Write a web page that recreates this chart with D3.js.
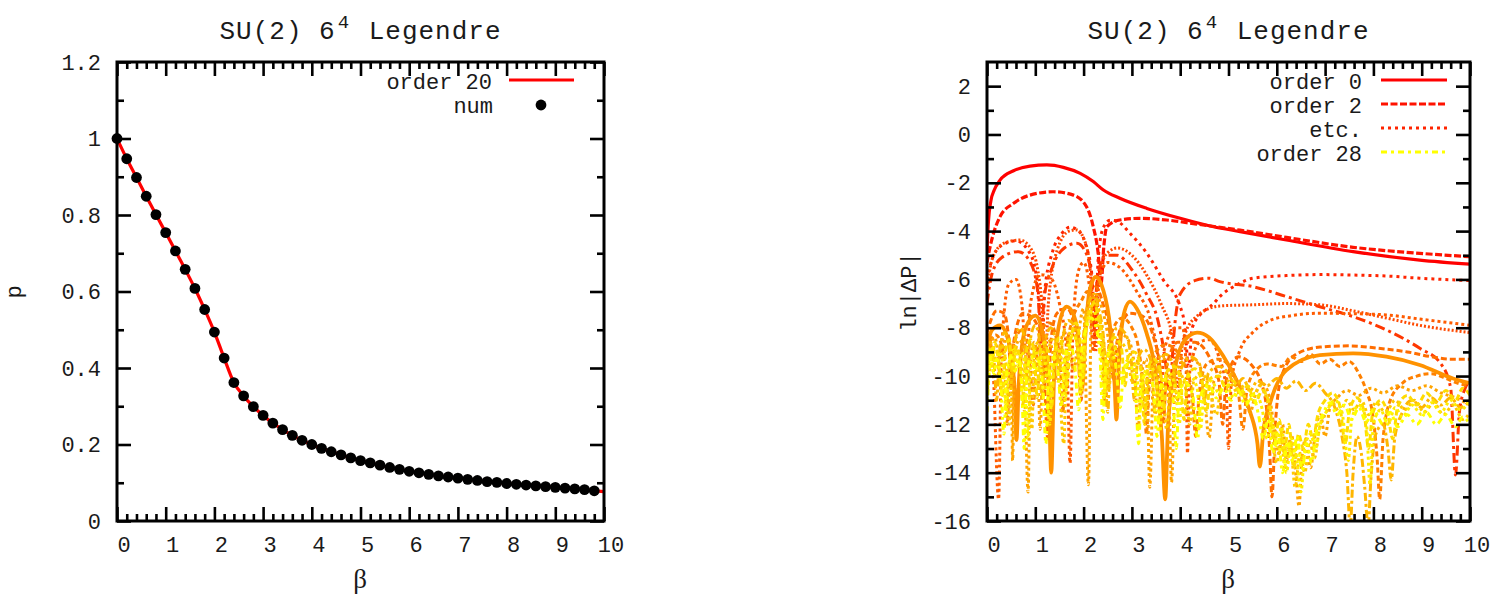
<!DOCTYPE html>
<html><head><meta charset="utf-8">
<script src="https://cdn.jsdelivr.net/npm/d3@7"></script>
<style>
html,body{margin:0;padding:0;background:#fff;}
svg{display:block;}
text{font-family:"Liberation Mono","DejaVu Sans Mono",monospace;fill:#1a1a1a;}
</style></head><body>
<svg id="chart" width="1497" height="598"></svg>
<script>
// ---- Left panel: plaquette p(beta), numerical points and order-20 expansion ----
const betaNum = [0,0.2,0.4,0.6,0.8,1.0,1.2,1.4,1.6,1.8,2.0,2.2,2.4,2.6,2.8,3.0,3.2,3.4,3.6,3.8,4.0,4.2,4.4,4.6,4.8,5.0,5.2,5.4,5.6,5.8,6.0,6.2,6.4,6.6,6.8,7.0,7.2,7.4,7.6,7.8,8.0,8.2,8.4,8.6,8.8,9.0,9.2,9.4,9.6,9.8];
const pNum = [1.000,0.947,0.898,0.849,0.801,0.754,0.706,0.658,0.608,0.553,0.494,0.426,0.362,0.327,0.299,0.276,0.256,0.239,0.224,0.211,0.200,0.190,0.181,0.173,0.165,0.158,0.152,0.146,0.140,0.135,0.130,0.126,0.122,0.118,0.115,0.112,0.109,0.106,0.103,0.101,0.098,0.096,0.094,0.092,0.090,0.088,0.086,0.084,0.082,0.079];
const betaOrder20 = [0,0.2,0.4,0.6,0.8,1.0,1.2,1.4,1.6,1.8,2.0,2.2,2.4,2.6,2.8,3.0,3.2,3.4,3.6,3.8,4.0,4.2,4.4,4.6,4.8,5.0,5.2,5.4,5.6,5.8,6.0,6.2,6.4,6.6,6.8,7.0,7.2,7.4,7.6,7.8,8.0,8.2,8.4,8.6,8.8,9.0,9.2,9.4,9.6,9.8,10.0];
const pOrder20 = [1.000,0.947,0.898,0.849,0.801,0.754,0.706,0.658,0.608,0.553,0.494,0.426,0.362,0.327,0.299,0.276,0.256,0.239,0.224,0.211,0.200,0.190,0.181,0.173,0.165,0.158,0.152,0.146,0.140,0.135,0.130,0.126,0.122,0.118,0.115,0.112,0.109,0.106,0.103,0.101,0.098,0.096,0.094,0.092,0.090,0.088,0.086,0.084,0.082,0.079,0.077];

const leftXTicks = [0,1,2,3,4,5,6,7,8,9,10];
const leftYTicks = [0,0.2,0.4,0.6,0.8,1,1.2];
const rightXTicks = [0,1,2,3,4,5,6,7,8,9,10];
const rightYTicks = [-16,-14,-12,-10,-8,-6,-4,-2,0,2];

// ---- Right panel: ln|ΔP| of the truncated expansions, [beta, ln|ΔP|] ----
const err0 = [[0,-4.8],[0.03,-3.6],[0.08,-2.75],[0.15,-2.3],[0.27,-1.89],[0.55,-1.5],[0.89,-1.31],[1.24,-1.26],[1.58,-1.36],[1.93,-1.61],[2.2,-1.95],[2.41,-2.3],[2.75,-2.64],[3.31,-3.06],[4.0,-3.47],[4.69,-3.82],[5.24,-4.02],[6.2,-4.37],[7.58,-4.85],[8.96,-5.2],[10,-5.37]];
const err2 = [[0,-5.3],[0.05,-4.78],[0.27,-3.4],[0.55,-2.85],[0.89,-2.51],[1.37,-2.37],[1.79,-2.51],[2.06,-2.99],[2.2,-3.82],[2.3,-4.9],[2.36,-6.2],[2.42,-4.6],[2.48,-3.82],[2.75,-3.54],[3.17,-3.47],[3.72,-3.54],[4.34,-3.71],[5.24,-3.96],[6.2,-4.26],[7.58,-4.67],[8.96,-4.92],[10,-5.06]];
const err4 = [[0,-6.0],[0.1,-5.2],[0.3,-4.6],[0.6,-4.4],[0.85,-4.8],[1.0,-5.6],[1.08,-7.0],[1.13,-9.0],[1.2,-6.4],[1.35,-4.9],[1.55,-4.1],[1.72,-3.84],[1.9,-4.0],[2.05,-4.6],[2.17,-5.8],[2.24,-8.5],[2.3,-5.2],[2.4,-3.9],[2.55,-3.55],[2.7,-3.6],[2.96,-4.09],[3.31,-4.92],[3.65,-6.02],[4.0,-7.13],[4.1,-8.0],[4.17,-9.6],[4.25,-8.0],[4.4,-7.5],[4.69,-7.0],[4.82,-6.71],[5.17,-6.23],[5.51,-5.95],[6.2,-5.84],[6.89,-5.8],[7.58,-5.82],[8.27,-5.86],[8.96,-5.95],[10,-6.05]];
const err6 = [[0,-7.0],[0.1,-5.8],[0.3,-5.1],[0.65,-4.85],[0.9,-5.3],[1.05,-6.5],[1.12,-8.5],[1.18,-6.8],[1.35,-5.5],[1.6,-4.7],[1.86,-4.5],[2.05,-4.9],[2.17,-6.0],[2.22,-8.0],[2.28,-6.0],[2.45,-5.0],[2.7,-5.0],[3.0,-5.6],[3.3,-6.6],[3.55,-7.8],[3.7,-9.5],[3.78,-11],[3.86,-8.5],[4.0,-6.6],[4.3,-6.05],[4.6,-5.95],[4.82,-6.09],[5.51,-6.3],[6.2,-6.71],[6.89,-7.13],[7.58,-7.54],[8.27,-8.09],[8.96,-8.85],[9.4,-9.5],[9.6,-10.5],[9.7,-14.1],[9.78,-11.5],[9.9,-10.5],[10,-10.2]];
const err8 = [[0,-6.5],[0.1,-5.2],[0.35,-4.5],[0.68,-4.37],[0.9,-4.7],[1.05,-5.6],[1.15,-7.5],[1.2,-9.8],[1.27,-7.0],[1.45,-4.8],[1.7,-4.0],[1.86,-3.95],[2.0,-4.3],[2.12,-5.3],[2.2,-7.5],[2.25,-9],[2.3,-6.5],[2.45,-5.0],[2.7,-4.7],[3.0,-5.0],[3.3,-5.8],[3.6,-7.0],[3.85,-8.5],[3.95,-10.5],[4.05,-8.6],[4.3,-7.6],[4.82,-7.1],[5.51,-7.05],[6.2,-7.0],[6.89,-7.05],[7.58,-7.3],[8.27,-7.6],[8.96,-7.9],[10,-8.2]];
const err10 = [[0,-8.0],[0.12,-9.5],[0.24,-15.1],[0.3,-9.0],[0.45,-6.2],[0.6,-6.0],[0.72,-7.0],[0.82,-9.5],[0.9,-7.0],[1.1,-5.8],[1.3,-5.9],[1.5,-7.0],[1.65,-9.0],[1.72,-13.6],[1.78,-8.0],[1.9,-5.6],[2.0,-5.3],[2.12,-6.3],[2.2,-9],[2.3,-6.2],[2.5,-5.3],[2.8,-5.6],[3.1,-6.5],[3.4,-7.8],[3.55,-9.5],[3.6,-11.2],[3.66,-9.0],[3.9,-8.0],[4.05,-8.0],[4.12,-9.5],[4.15,-13.2],[4.2,-9.8],[4.4,-8.6],[4.6,-8.5],[4.8,-9.2],[4.95,-10.5],[5.0,-13.0],[5.06,-10.2],[5.24,-8.92],[5.5,-8.2],[5.86,-7.7],[6.3,-7.5],[6.89,-7.4],[7.6,-7.42],[8.27,-7.47],[9.0,-7.65],[10,-7.9]];
const err12 = [[0,-8.2],[0.2,-7.3],[0.35,-7.4],[0.45,-8.5],[0.5,-10.5],[0.56,-8.5],[0.75,-7.4],[0.95,-7.6],[1.15,-8.8],[1.26,-12.6],[1.32,-8.6],[1.45,-7.4],[1.65,-7.2],[1.8,-7.8],[1.9,-9.4],[1.95,-11],[2.0,-9],[2.15,-6.5],[2.25,-6.3],[2.4,-7.0],[2.55,-8.3],[2.62,-10.2],[2.7,-8.5],[2.95,-7.4],[3.2,-7.5],[3.45,-8.4],[3.6,-10],[3.65,-12],[3.72,-9.6],[3.95,-8.6],[4.3,-8.6],[4.6,-9.2],[4.8,-10.2],[4.88,-12.0],[4.95,-10.2],[5.2,-9.2],[5.5,-9.6],[5.75,-10.8],[5.85,-13],[5.9,-15.0],[5.97,-12],[6.1,-10],[6.4,-9.1],[6.9,-8.8],[7.5,-8.75],[8.1,-8.85],[8.7,-9.0],[9.2,-9.2],[9.6,-9.3],[10,-9.3]];
const err14 = [[0,-9.2],[0.08,-8.5],[0.18,-8.3],[0.3,-8.7],[0.38,-10.2],[0.42,-12.0],[0.47,-9.8],[0.6,-8.4],[0.72,-8.1],[0.82,-8.5],[0.9,-9.8],[0.96,-11.2],[1.02,-9.3],[1.15,-8.0],[1.3,-7.8],[1.42,-8.3],[1.52,-9.6],[1.57,-11.5],[1.63,-9.2],[1.78,-7.6],[1.95,-6.9],[2.08,-6.5],[2.18,-6.7],[2.3,-7.6],[2.4,-9.5],[2.45,-11.2],[2.5,-9.2],[2.62,-8.0],[2.8,-7.6],[3.0,-8.0],[3.15,-9.0],[3.25,-10.8],[3.3,-12.4],[3.36,-10.4],[3.5,-9.0],[3.7,-8.7],[3.9,-8.9],[4.1,-9.6],[4.25,-10.8],[4.32,-12.5],[4.4,-10.6],[4.55,-9.5],[4.8,-9.3],[5.05,-9.7],[5.2,-10.6],[5.3,-12.2],[5.38,-10.6],[5.55,-9.8],[5.8,-9.5],[6.1,-9.6],[6.3,-9.2],[6.5,-9.4],[6.7,-9.1],[6.9,-9.5],[7.1,-9.3],[7.3,-9.6],[7.5,-9.4],[7.7,-9.9],[7.85,-10.6],[8.0,-11.8],[8.08,-13.5],[8.13,-15.1],[8.2,-12.6],[8.35,-11.0],[8.6,-10.3],[8.9,-10.0],[9.2,-9.9],[9.5,-10.1],[9.75,-10.3],[10,-10.4]];
const err16 = [[0,-8.8],[0.1,-8.1],[0.27,-7.9],[0.45,-8.6],[0.57,-10.5],[0.61,-12.65],[0.66,-10.2],[0.8,-8.0],[1.0,-7.5],[1.15,-8.2],[1.27,-10.2],[1.33,-14.0],[1.39,-10.0],[1.5,-7.8],[1.65,-7.13],[1.8,-7.5],[1.9,-8.6],[1.97,-10.5],[2.03,-8.5],[2.12,-6.5],[2.25,-5.9],[2.4,-6.4],[2.55,-8.0],[2.64,-10.3],[2.68,-11.8],[2.73,-9.5],[2.85,-7.3],[2.96,-6.92],[3.1,-7.2],[3.3,-8.2],[3.5,-10.0],[3.62,-12.5],[3.69,-15.1],[3.75,-12.0],[3.9,-9.6],[4.1,-8.5],[4.35,-8.2],[4.6,-8.4],[4.9,-9.2],[5.2,-10.3],[5.45,-11.5],[5.6,-12.8],[5.65,-13.75],[5.72,-12.3],[5.86,-11.13],[6.2,-9.75],[6.89,-9.13],[7.58,-9.06],[8.27,-9.2],[8.96,-9.54],[9.65,-10.1],[10,-10.3]];
const err18 = [[0,-10.5],[0.05,-9.0],[0.15,-8.4],[0.22,-8.9],[0.28,-10.4],[0.33,-9.0],[0.42,-8.3],[0.5,-9.0],[0.53,-13.5],[0.57,-9.3],[0.66,-8.5],[0.76,-8.9],[0.85,-14.8],[0.9,-9.4],[0.98,-8.6],[1.05,-9.5],[1.1,-12.2],[1.16,-9.2],[1.25,-8.4],[1.35,-8.9],[1.45,-10.2],[1.5,-9.0],[1.6,-8.2],[1.7,-8.7],[1.8,-9.8],[1.88,-8.5],[2.0,-7.2],[2.1,-14.5],[2.16,-7.4],[2.25,-6.6],[2.35,-7.0],[2.5,-8.3],[2.6,-9.8],[2.65,-8.9],[2.8,-8.3],[2.95,-8.6],[3.05,-9.6],[3.13,-12.2],[3.2,-9.9],[3.3,-9.3],[3.37,-14.6],[3.45,-9.8],[3.6,-9.2],[3.75,-9.6],[3.82,-14.4],[3.9,-10.0],[4.05,-9.4],[4.25,-9.3],[4.45,-9.8],[4.6,-12.55],[4.7,-10.2],[4.9,-9.8],[5.1,-10.0],[5.3,-10.6],[5.45,-11.5],[5.55,-10.8],[5.7,-10.3],[5.85,-10.9],[5.95,-12.2],[6.05,-13.2],[6.12,-12.0],[6.2,-13.5],[6.3,-12.4],[6.4,-14.2],[6.46,-15.4],[6.52,-13.4],[6.6,-12.6],[6.7,-13.8],[6.8,-12.3],[6.9,-11.6],[7.0,-12.5],[7.1,-11.3],[7.25,-10.9],[7.45,-10.6],[7.7,-10.8],[7.95,-10.5],[8.2,-10.7],[8.5,-10.4],[8.8,-10.6],[9.1,-10.4],[9.4,-10.7],[9.7,-10.9],[10,-11.2]];
const err20 = [[0,-9.8],[0.07,-8.6],[0.14,-9.2],[0.2,-11.0],[0.26,-9.0],[0.36,-8.2],[0.45,-8.6],[0.5,-10.4],[0.56,-8.8],[0.68,-8.0],[0.78,-8.4],[0.83,-10.2],[0.88,-8.7],[1.0,-7.9],[1.08,-8.4],[1.14,-11.0],[1.2,-8.6],[1.32,-8.0],[1.42,-8.5],[1.5,-9.8],[1.56,-8.6],[1.68,-7.7],[1.8,-7.9],[1.88,-8.9],[1.94,-10.8],[2.0,-8.3],[2.12,-6.9],[2.22,-6.6],[2.32,-7.3],[2.42,-8.6],[2.5,-11.5],[2.56,-8.8],[2.7,-8.0],[2.85,-8.2],[2.98,-9.2],[3.05,-11.0],[3.12,-9.3],[3.25,-8.9],[3.4,-9.4],[3.48,-11.6],[3.55,-9.6],[3.7,-9.1],[3.85,-9.5],[3.95,-11.0],[4.02,-9.7],[4.2,-9.2],[4.4,-9.5],[4.5,-11.0],[4.58,-9.9],[4.8,-9.6],[5.0,-9.9],[5.15,-10.4],[5.3,-10.1],[5.45,-10.6],[5.6,-10.2],[5.8,-10.4],[6.0,-10.1],[6.2,-10.5],[6.4,-10.2],[6.6,-10.6],[6.8,-10.3],[7.0,-10.7],[7.2,-11.3],[7.35,-12.5],[7.45,-14.0],[7.52,-16.2],[7.58,-14.0],[7.66,-12.5],[7.75,-13.2],[7.82,-14.6],[7.89,-16.2],[7.95,-14.2],[8.05,-12.4],[8.2,-12.0],[8.3,-13.0],[8.37,-14.3],[8.44,-12.6],[8.6,-11.5],[8.8,-11.0],[9.0,-11.3],[9.2,-10.9],[9.4,-11.2],[9.6,-10.9],[9.8,-11.3],[10,-11.0]];
const err22 = [[0,-10.8],[0.06,-9.6],[0.12,-8.9],[0.2,-9.4],[0.3,-8.7],[0.4,-9.6],[0.46,-12.0],[0.52,-9.4],[0.6,-8.8],[0.7,-9.3],[0.78,-11.5],[0.84,-9.2],[0.93,-12.2],[0.98,-9.0],[1.06,-8.6],[1.13,-9.4],[1.2,-10.6],[1.26,-9.1],[1.36,-8.5],[1.46,-9.1],[1.59,-12.8],[1.65,-9.0],[1.75,-8.1],[1.86,-8.6],[1.95,-10.2],[2.03,-8.0],[2.14,-7.1],[2.24,-6.9],[2.33,-7.6],[2.44,-9.0],[2.52,-10.5],[2.6,-9.1],[2.75,-8.6],[2.9,-9.0],[3.0,-10.2],[3.08,-9.4],[3.2,-9.8],[3.3,-11.3],[3.37,-9.8],[3.5,-9.5],[3.62,-10.2],[3.72,-12.2],[3.8,-10.0],[3.95,-9.8],[4.1,-10.4],[4.2,-12.0],[4.28,-10.2],[4.45,-9.9],[4.6,-10.5],[4.75,-11.6],[4.85,-10.4],[5.0,-10.2],[5.2,-10.7],[5.35,-10.3],[5.5,-10.9],[5.65,-10.4],[5.8,-11.0],[5.9,-12.4],[6.0,-13.6],[6.08,-12.5],[6.18,-13.9],[6.28,-12.8],[6.38,-14.6],[6.48,-13.2],[6.58,-14.0],[6.68,-12.7],[6.78,-13.4],[6.88,-12.2],[7.0,-11.6],[7.15,-11.1],[7.3,-11.5],[7.45,-11.0],[7.6,-11.4],[7.75,-11.0],[7.9,-11.6],[8.05,-11.1],[8.25,-11.5],[8.45,-11.0],[8.65,-11.4],[8.85,-11.0],[9.05,-11.5],[9.25,-11.1],[9.45,-11.6],[9.65,-11.2],[9.85,-11.8],[10,-11.5]];
const err24 = [[0,-10.2],[0.05,-8.9],[0.1,-9.6],[0.16,-8.6],[0.24,-9.4],[0.32,-10.8],[0.38,-9.0],[0.46,-8.5],[0.53,-9.8],[0.6,-8.8],[0.68,-9.4],[0.74,-11.2],[0.8,-9.2],[0.9,-8.5],[0.98,-9.2],[1.04,-10.9],[1.1,-9.0],[1.2,-8.6],[1.28,-9.5],[1.34,-11.3],[1.4,-9.1],[1.5,-8.4],[1.58,-9.0],[1.66,-10.4],[1.72,-8.7],[1.84,-7.8],[1.92,-8.4],[2.0,-10.0],[2.05,-8.0],[2.15,-7.2],[2.22,-7.0],[2.3,-7.5],[2.38,-8.5],[2.46,-10.6],[2.52,-9.0],[2.64,-8.4],[2.78,-8.8],[2.86,-10.4],[2.92,-9.2],[3.05,-9.0],[3.18,-9.6],[3.26,-12.0],[3.32,-9.8],[3.45,-9.3],[3.58,-9.7],[3.66,-11.4],[3.73,-9.8],[3.88,-9.6],[4.0,-10.1],[4.08,-11.8],[4.15,-10.0],[4.3,-9.7],[4.45,-10.2],[4.55,-11.5],[4.62,-10.1],[4.8,-10.0],[4.95,-10.5],[5.1,-10.2],[5.25,-10.8],[5.4,-10.4],[5.55,-11.1],[5.7,-10.6],[5.85,-11.2],[5.95,-12.8],[6.05,-11.8],[6.15,-13.2],[6.25,-12.0],[6.35,-13.8],[6.45,-12.4],[6.55,-13.0],[6.65,-12.0],[6.75,-12.6],[6.85,-11.6],[7.0,-11.0],[7.15,-10.7],[7.3,-11.2],[7.42,-12.8],[7.5,-11.5],[7.65,-10.9],[7.8,-11.4],[7.9,-13.0],[7.98,-11.6],[8.15,-11.0],[8.3,-11.6],[8.4,-12.6],[8.5,-11.3],[8.7,-10.8],[8.9,-11.2],[9.1,-10.7],[9.3,-11.1],[9.5,-10.6],[9.7,-11.0],[9.85,-10.5],[10,-10.8]];
const err26 = [[0,-11.0],[0.04,-9.4],[0.1,-8.8],[0.18,-9.6],[0.26,-9.0],[0.34,-9.8],[0.4,-11.6],[0.46,-9.4],[0.56,-8.9],[0.64,-9.6],[0.72,-9.0],[0.8,-10.0],[0.85,-12.6],[0.9,-9.6],[1.0,-8.9],[1.08,-9.5],[1.16,-9.0],[1.24,-10.2],[1.3,-12.0],[1.36,-9.6],[1.46,-8.8],[1.54,-9.4],[1.62,-11.0],[1.68,-9.2],[1.78,-8.3],[1.88,-8.8],[1.96,-10.6],[2.02,-8.6],[2.1,-7.6],[2.2,-7.3],[2.28,-7.8],[2.36,-9.0],[2.42,-11.0],[2.48,-9.3],[2.58,-8.7],[2.7,-9.1],[2.8,-10.2],[2.88,-9.4],[3.0,-9.3],[3.1,-9.9],[3.18,-11.4],[3.25,-9.9],[3.38,-9.6],[3.5,-10.1],[3.58,-12.3],[3.65,-10.1],[3.78,-9.9],[3.9,-10.5],[3.98,-12.0],[4.05,-10.3],[4.2,-10.0],[4.35,-10.5],[4.42,-12.2],[4.5,-10.5],[4.65,-10.2],[4.8,-10.7],[4.95,-10.3],[5.1,-10.9],[5.25,-10.5],[5.4,-11.1],[5.55,-10.7],[5.7,-11.4],[5.8,-12.6],[5.9,-11.8],[6.0,-12.9],[6.1,-12.1],[6.2,-14.0],[6.3,-12.6],[6.4,-13.2],[6.5,-14.8],[6.58,-13.0],[6.7,-12.4],[6.8,-13.0],[6.9,-12.0],[7.05,-11.4],[7.2,-11.0],[7.35,-11.5],[7.48,-13.5],[7.55,-11.8],[7.7,-11.2],[7.85,-11.8],[7.93,-14.5],[8.0,-12.0],[8.15,-11.4],[8.3,-12.0],[8.45,-11.3],[8.6,-11.7],[8.8,-11.2],[9.0,-11.6],[9.2,-11.1],[9.4,-11.5],[9.6,-11.0],[9.8,-11.4],[10,-11.0]];
const err28 = [[0,-11.5],[0.04,-10.0],[0.08,-9.2],[0.14,-9.9],[0.2,-9.3],[0.28,-10.2],[0.35,-12.4],[0.41,-9.8],[0.5,-9.2],[0.58,-9.8],[0.66,-9.3],[0.72,-10.4],[0.77,-13.0],[0.82,-9.9],[0.92,-9.2],[1.0,-9.8],[1.08,-9.4],[1.16,-10.6],[1.22,-12.8],[1.28,-10.0],[1.38,-9.2],[1.46,-9.7],[1.54,-11.2],[1.6,-9.5],[1.7,-8.7],[1.8,-9.2],[1.9,-11.4],[1.96,-9.0],[2.06,-8.0],[2.16,-7.6],[2.26,-8.0],[2.34,-9.2],[2.4,-11.8],[2.46,-9.5],[2.56,-9.0],[2.66,-9.5],[2.76,-11.3],[2.83,-9.7],[2.95,-9.5],[3.06,-10.2],[3.14,-12.8],[3.2,-10.2],[3.32,-9.9],[3.44,-10.4],[3.52,-12.5],[3.6,-10.4],[3.72,-10.1],[3.84,-10.7],[3.92,-13.0],[3.98,-10.6],[4.12,-10.3],[4.26,-10.8],[4.36,-12.6],[4.44,-10.7],[4.6,-10.4],[4.75,-10.9],[4.9,-10.5],[5.05,-11.0],[5.2,-10.6],[5.35,-11.2],[5.5,-10.8],[5.62,-11.6],[5.72,-12.6],[5.82,-11.8],[5.92,-13.2],[6.02,-12.4],[6.12,-14.0],[6.22,-12.7],[6.32,-13.5],[6.42,-12.5],[6.52,-13.9],[6.62,-12.8],[6.72,-13.6],[6.82,-12.3],[6.95,-11.6],[7.1,-11.1],[7.25,-11.6],[7.4,-11.2],[7.55,-11.8],[7.7,-11.3],[7.85,-11.9],[8.0,-11.4],[8.2,-12.0],[8.35,-11.5],[8.5,-12.1],[8.7,-11.6],[8.9,-12.0],[9.1,-11.5],[9.3,-12.0],[9.5,-11.6],[9.7,-12.1],[9.85,-11.7],[10,-12.0]];

const orders = [0,2,4,6,8,10,12,14,16,18,20,22,24,26,28];
const errSeries = [err0,err2,err4,err6,err8,err10,err12,err14,err16,err18,err20,err22,err24,err26,err28];
const legendRight = [
  {label:"order 0", order:0},
  {label:"order 2", order:2},
  {label:"etc.", order:4},
  {label:"order 28", order:28}
];

// ---- line styles per expansion order ----
const dashByOrder = {0:null,2:"7,2.5",4:"3,4",6:"10,4,3,4",8:"2,2",10:"3,3",12:"6,3",14:"5,3",16:null,18:"3,3",20:"8,3,3,3",22:"3,3",24:"6,3",26:"3,3",28:"6,4,3,4"};
const widthByOrder = o => (o === 16 ? 3.8 : (o <= 2 ? 3.2 : 3));
const colorByOrder = d3.scaleLinear().domain([0, 28]).range(["#ff0000", "#ffff00"]).interpolate(d3.interpolateRgb);

const svg = d3.select("#chart");
const MAJ = 14, MIN = 7;
const tickFont = 22;

function drawFrame(g, x, y, xMajor, xMinor, yMajor, yMinor, yFmt) {
  const [x0, x1] = x.range();
  const [yb, yt] = y.range();
  const tickStroke = s => s.selectAll("line").attr("stroke", "#000").attr("stroke-width", 2.6);
  const noDomain = s => s.select(".domain").remove();
  // bottom
  g.append("g").attr("transform", `translate(0,${yb})`)
    .call(d3.axisBottom(x).tickValues(xMajor).tickSize(-MAJ).tickPadding(15).tickFormat(d => String(d)))
    .call(noDomain).call(tickStroke)
    .call(s => s.selectAll("text").attr("dx", 6.5).style("font-size", tickFont + "px").attr("fill", "#1a1a1a"));
  g.append("g").attr("transform", `translate(0,${yb})`)
    .call(d3.axisBottom(x).tickValues(xMinor).tickSize(-MIN).tickFormat(""))
    .call(noDomain).call(tickStroke);
  // top
  g.append("g").attr("transform", `translate(0,${yt})`)
    .call(d3.axisTop(x).tickValues(xMajor).tickSize(-MAJ).tickFormat(""))
    .call(noDomain).call(tickStroke);
  g.append("g").attr("transform", `translate(0,${yt})`)
    .call(d3.axisTop(x).tickValues(xMinor).tickSize(-MIN).tickFormat(""))
    .call(noDomain).call(tickStroke);
  // left
  g.append("g").attr("transform", `translate(${x0},0)`)
    .call(d3.axisLeft(y).tickValues(yMajor).tickSize(-MAJ).tickPadding(16).tickFormat(yFmt))
    .call(noDomain).call(tickStroke)
    .call(s => s.selectAll("text").style("font-size", tickFont + "px").attr("fill", "#1a1a1a"));
  g.append("g").attr("transform", `translate(${x0},0)`)
    .call(d3.axisLeft(y).tickValues(yMinor).tickSize(-MIN).tickFormat(""))
    .call(noDomain).call(tickStroke);
  // right
  g.append("g").attr("transform", `translate(${x1},0)`)
    .call(d3.axisRight(y).tickValues(yMajor).tickSize(-MAJ).tickFormat(""))
    .call(noDomain).call(tickStroke);
  g.append("g").attr("transform", `translate(${x1},0)`)
    .call(d3.axisRight(y).tickValues(yMinor).tickSize(-MIN).tickFormat(""))
    .call(noDomain).call(tickStroke);
  g.append("rect").attr("x", x0).attr("y", yt).attr("width", x1 - x0).attr("height", yb - yt)
    .attr("fill", "none").attr("stroke", "#000").attr("stroke-width", 3);
}

function drawTitle(cx) {
  const t = svg.append("text").attr("x", cx).attr("y", 39).attr("text-anchor", "middle")
    .style("font-size", "26px").style("letter-spacing", "1px");
  t.append("tspan").text("SU(2) 6");
  t.append("tspan").attr("dy", -11).attr("dx", 2).style("font-size", "19px").text("4");
  t.append("tspan").attr("dy", 11).attr("dx", 2).text(" Legendre");
}

function betaLabel(cx) {
  svg.append("text").attr("x", cx).attr("y", 588).attr("text-anchor", "middle")
    .style("font-family", "'Liberation Serif','DejaVu Serif',serif").style("font-size", "27px").text("β");
}

// minor tick helpers built from the major ticks
const minorBetween = (major, n) => {
  const out = [];
  for (let i = 0; i < major.length - 1; i++) {
    const a = major[i], b = major[i + 1];
    for (let k = 1; k < n; k++) out.push(+(a + (b - a) * k / n).toFixed(6));
  }
  return out;
};

// ================= Left panel =================
const xL = d3.scaleLinear().domain([0, 10]).range([117, 604]);
const yL = d3.scaleLinear().domain([0, 1.2]).range([521, 62]);
const gL = svg.append("g");

const fitLine = d3.line().x((d, i) => xL(betaOrder20[i])).y(d => yL(d)).curve(d3.curveMonotoneX);
gL.append("path").attr("d", fitLine(pOrder20)).attr("fill", "none").attr("stroke", "#ff0000").attr("stroke-width", 3.2);
gL.append("g").selectAll("circle").data(pNum).join("circle")
  .attr("cx", (d, i) => xL(betaNum[i])).attr("cy", d => yL(d)).attr("r", 5.4).attr("fill", "#000");

drawFrame(gL, xL, yL, leftXTicks, minorBetween(leftXTicks, 5), leftYTicks, minorBetween(leftYTicks, 2), d => String(d));
drawTitle(360.5);
betaLabel(360);
svg.append("text").attr("transform", "translate(21,292) rotate(-90)").attr("text-anchor", "middle")
  .style("font-size", "22px").text("p");

// left legend
svg.append("text").attr("x", 492).attr("y", 89).attr("text-anchor", "end").style("font-size", "22px").text("order 20");
svg.append("line").attr("x1", 509).attr("x2", 574).attr("y1", 80).attr("y2", 80).attr("stroke", "#ff0000").attr("stroke-width", 3.2);
svg.append("text").attr("x", 493).attr("y", 113).attr("text-anchor", "end").style("font-size", "22px").text("num");
svg.append("circle").attr("cx", 541).attr("cy", 105).attr("r", 5.4).attr("fill", "#000");

// ================= Right panel =================
const xR = d3.scaleLinear().domain([0, 10]).range([987, 1470]);
const yR = d3.scaleLinear().domain([-16, 3]).range([521, 62]);
const gR = svg.append("g");

svg.append("defs").append("clipPath").attr("id", "clipR")
  .append("rect").attr("x", 987).attr("y", 62).attr("width", 483).attr("height", 459);

const errLine = d3.line().x(d => xR(d[0])).y(d => yR(d[1])).curve(d3.curveMonotoneX);
const gCurves = gR.append("g").attr("clip-path", "url(#clipR)");
orders.forEach((o, i) => {
  gCurves.append("path").attr("d", errLine(errSeries[i]))
    .attr("fill", "none")
    .attr("stroke", colorByOrder(o))
    .attr("stroke-width", widthByOrder(o))
    .attr("stroke-dasharray", dashByOrder[o])
    .attr("stroke-linejoin", "round");
});

drawFrame(gR, xR, yR, rightXTicks, minorBetween(rightXTicks, 5), rightYTicks, minorBetween(rightYTicks, 2), d => String(d));
drawTitle(1228.5);
betaLabel(1228);
svg.append("text").attr("transform", "translate(916,292) rotate(-90)").attr("text-anchor", "middle")
  .style("font-size", "22px").text("ln|ΔP|");

// right legend
legendRight.forEach((d, i) => {
  const yc = 80 + i * 24;
  svg.append("text").attr("x", 1362).attr("y", yc + 9).attr("text-anchor", "end").style("font-size", "22px").text(d.label);
  svg.append("line").attr("x1", 1381).attr("x2", 1447).attr("y1", yc).attr("y2", yc)
    .attr("stroke", colorByOrder(d.order)).attr("stroke-width", widthByOrder(d.order))
    .attr("stroke-dasharray", dashByOrder[d.order]);
});
</script></body></html>
